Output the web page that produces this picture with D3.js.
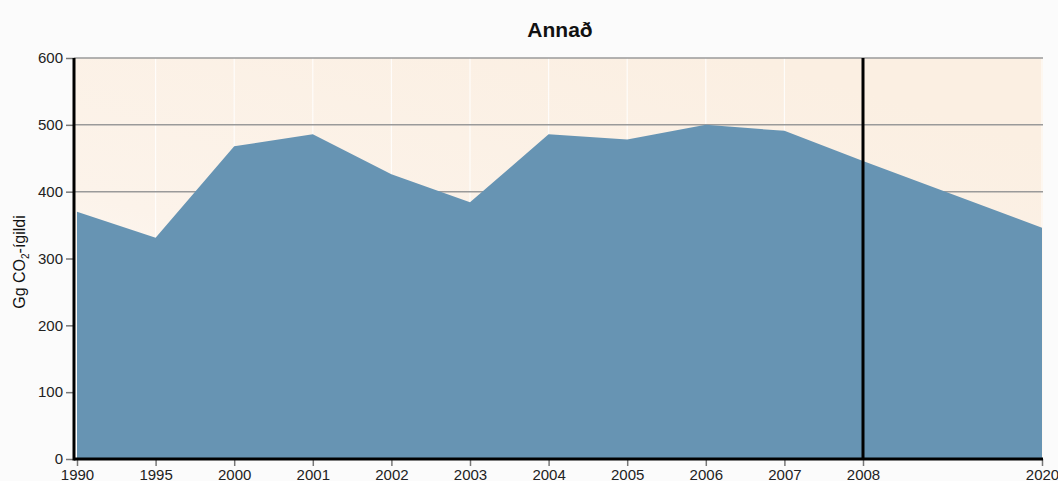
<!DOCTYPE html>
<html>
<head>
<meta charset="utf-8">
<script src="https://cdn.jsdelivr.net/npm/d3@7"></script>
<style>
  body { margin: 0; background: #fbfbfb; }
  svg { display: block; font-family: "Liberation Sans", Arial, sans-serif; }
</style>
</head>
<body>
<div id="chart"></div>
<script>
// gögn lesin af myndinni
const years = ["1990", "1995", "2000", "2001", "2002", "2003", "2004", "2005", "2006", "2007", "2008", "2020"];
const values = [370, 331, 468, 486, 426, 384, 486, 478, 500, 491, 446, 346];
const yTicks = [0, 100, 200, 300, 400, 500, 600];
const gridLines = [400, 500, 600];
const markerYear = "2008";

const width = 1058, height = 481;
const plotLeft = 74, plotRight = 1043, plotTop = 58, plotBottom = 459;

const svg = d3.select("#chart").append("svg")
    .attr("width", width)
    .attr("height", height);

// x: jafnt bil 1990-2008, 2020 lengra til hægri
const xIdx = d3.scaleLinear().domain([0, 10, 11]).range([77, 863, 1042]);
const x = yr => xIdx(years.indexOf(yr));
const y = d3.scaleLinear().domain([0, 600]).range([plotBottom, plotTop]);

const defs = svg.append("defs");
const grad = defs.append("linearGradient")
    .attr("id", "bg")
    .attr("x1", "0%").attr("y1", "100%")
    .attr("x2", "70%").attr("y2", "0%");
grad.append("stop").attr("offset", "0%").attr("stop-color", "#ffffff");
grad.append("stop").attr("offset", "45%").attr("stop-color", "#fcf3ea");
grad.append("stop").attr("offset", "100%").attr("stop-color", "#fbefe2");

svg.append("rect")
    .attr("x", plotLeft).attr("y", plotTop)
    .attr("width", plotRight - plotLeft).attr("height", plotBottom - plotTop)
    .attr("fill", "url(#bg)");

// lóðréttar hvítar línur
svg.append("g").selectAll("line")
    .data(years.slice(1))
    .enter().append("line")
    .attr("x1", d => x(d)).attr("x2", d => x(d))
    .attr("y1", plotTop).attr("y2", plotBottom)
    .attr("stroke", "#ffffff")
    .attr("stroke-opacity", 0.8)
    .attr("stroke-width", 1.2);

// láréttar gráar línur
svg.append("g").selectAll("line")
    .data(gridLines)
    .enter().append("line")
    .attr("x1", plotLeft).attr("x2", plotRight)
    .attr("y1", d => y(d)).attr("y2", d => y(d))
    .attr("stroke", "#9a9a9a")
    .attr("stroke-width", 1.5);

const area = d3.area()
    .x((d, i) => x(years[i]))
    .y0(y(0))
    .y1(d => y(d));

svg.append("path")
    .datum(values)
    .attr("d", area)
    .attr("fill", "#6794b3");

// ásar
const yAxis = svg.append("g")
    .attr("transform", `translate(${plotLeft},0)`)
    .call(d3.axisLeft(y).tickValues(yTicks).tickSize(8).tickPadding(3));
yAxis.select(".domain").remove();
yAxis.selectAll(".tick line").attr("stroke", "#777").attr("stroke-width", 1.5);
yAxis.selectAll("text").attr("font-size", 15).attr("fill", "#222");

const xAxis = svg.append("g")
    .attr("transform", `translate(0,${plotBottom})`)
    .call(d3.axisBottom(d3.scaleOrdinal().domain(years).range(years.map(x))).tickSize(7).tickPadding(3));
xAxis.select(".domain").remove();
xAxis.selectAll(".tick line").attr("stroke", "#777").attr("stroke-width", 1.5);
xAxis.selectAll("text").attr("font-size", 15).attr("fill", "#222");

svg.append("line")
    .attr("x1", plotLeft).attr("x2", plotLeft)
    .attr("y1", plotTop).attr("y2", plotBottom + 1.5)
    .attr("stroke", "#000").attr("stroke-width", 3);
svg.append("line")
    .attr("x1", plotLeft).attr("x2", plotRight)
    .attr("y1", plotBottom).attr("y2", plotBottom)
    .attr("stroke", "#000").attr("stroke-width", 3);
svg.append("line")
    .attr("x1", x(markerYear)).attr("x2", x(markerYear))
    .attr("y1", plotTop).attr("y2", plotBottom)
    .attr("stroke", "#000").attr("stroke-width", 3);

svg.append("text")
    .attr("x", 560).attr("y", 37)
    .attr("text-anchor", "middle")
    .attr("font-size", 21)
    .attr("font-weight", "bold")
    .attr("fill", "#111")
    .text("Annað");

const yl = svg.append("text")
    .attr("transform", "translate(25,262) rotate(-90)")
    .attr("text-anchor", "middle")
    .attr("font-size", 16)
    .attr("fill", "#111");
yl.append("tspan").text("Gg CO");
yl.append("tspan").attr("font-size", 10).attr("dy", 4).text("2");
yl.append("tspan").attr("dy", -4).text("-ígildi");
</script>
</body>
</html>
